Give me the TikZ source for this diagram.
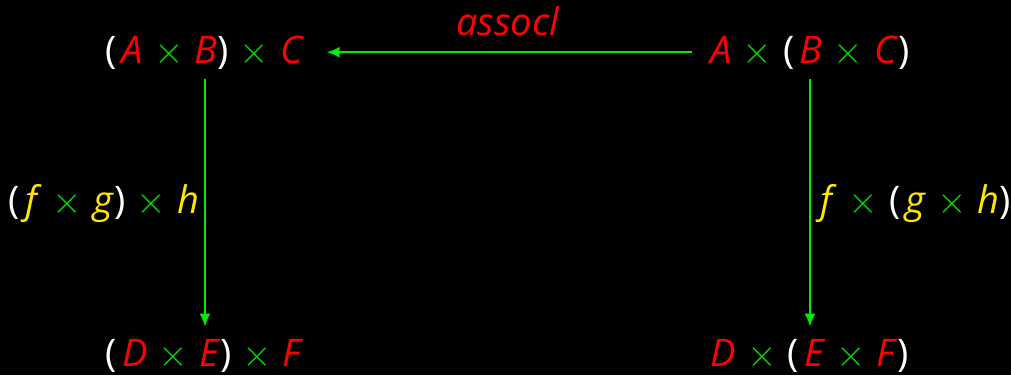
\documentclass[tikz,border=0pt]{standalone}
\usepackage{fontspec}
\setmainfont{Open Sans}
\usetikzlibrary{arrows.meta}
\definecolor{myred}{RGB}{255,0,0}
\definecolor{mygreen}{RGB}{0,215,0}
\definecolor{myarrow}{RGB}{0,235,0}
\definecolor{myyellow}{RGB}{255,230,0}
\newcommand{\R}[1]{\textcolor{myred}{\itshape #1\/}}
\newcommand{\Y}[1]{\textcolor{myyellow}{\itshape #1\/}}
\newcommand{\X}{\hspace{11pt}\textcolor{mygreen}{\scalebox{3.8}{\fontsize{10}{12}\selectfont$\times$}}\hspace{11pt}}
\newcommand{\Lp}{\textcolor{white}{(}\hspace{5pt}}
\newcommand{\Rp}{\textcolor{white}{)}}
\begin{document}
\begin{tikzpicture}[x=1pt,y=-1pt,
  lbl/.style={font=\fontsize{38}{40}\selectfont, inner sep=0pt, anchor=base},
  arr/.style={draw=myarrow, line width=2pt, -{Latex[length=13pt,width=11pt]}}]
\fill[black] (0,0) rectangle (1011,375);
\useasboundingbox (0,0) rectangle (1011,375);
\node[lbl] (TL) at (205,63) {\Lp\R{A}\X\R{B}\Rp\X\R{C}};
\node[lbl] (TR) at (810,63) {\R{A}\X\Lp\R{B}\X\R{C}\Rp};
\node[lbl] (BL) at (205,366) {\Lp\R{D}\X\R{E}\Rp\X\R{F}};
\node[lbl] (BR) at (810,366) {\R{D}\X\Lp\R{E}\X\R{F}\Rp};
\draw[arr, shorten <=18pt, shorten >=22pt] (TR.west) -- (TL.east);
\node[lbl] (lab) at (508,35) {\R{assocl}};
\draw[arr] ([yshift=-10pt]TL.south) -- ([yshift=12pt]BL.north);
\draw[arr] ([yshift=-10pt]TR.south) -- ([yshift=12pt]BR.north);
\node[lbl] (lf) at (104,213) {\Lp\Y{f}\X\Y{g}\Rp\X\Y{h}};
\node[lbl] (rf) at (916,213) {\Y{f}\X\Lp\Y{g}\X\Y{h}\Rp};
\end{tikzpicture}
\end{document}
